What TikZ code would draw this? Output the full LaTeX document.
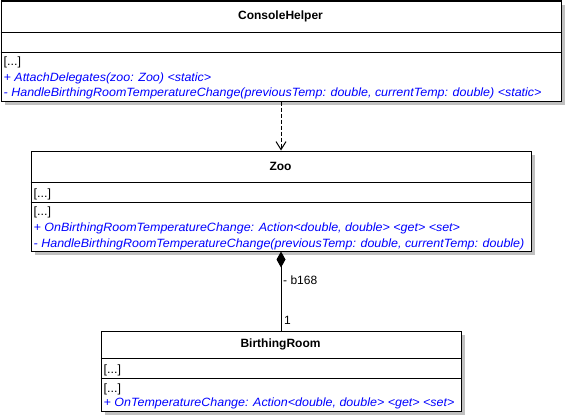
\documentclass[tikz,border=0pt]{standalone}
\usepackage{fontspec}
\setmainfont{Liberation Sans}
\newfontfamily\memberfont{Liberation Sans}[FakeStretch=1.04]
\usetikzlibrary{arrows.meta,shadows}
\definecolor{membercol}{RGB}{0,0,255}
\definecolor{shadowcol}{RGB}{192,192,192}
\tikzset{
  x=1pt, y=1pt,
  classbox/.style={draw=black, line width=1pt, fill=white, inner sep=0pt, anchor=north west,
    general shadow={fill=shadowcol, shadow xshift=4pt, shadow yshift=-4pt}},
  sepline/.style={draw=black, line width=1pt},
  classtitle/.style={font=\fontsize{12}{14}\selectfont\bfseries, inner sep=0pt, anchor=center},
  member/.style={font=\memberfont\fontsize{12}{14}\selectfont\itshape, text=membercol, inner sep=0pt, anchor=base west},
  collapsed/.style={font=\memberfont\fontsize{12}{14}\selectfont, text=black, inner sep=0pt, anchor=base west},
  assoclabel/.style={font=\fontsize{12}{14}\selectfont, text=black, inner sep=0pt, anchor=west},
  connector/.style={draw=black, line width=1pt},
}
\begin{document}
\begin{tikzpicture}
\useasboundingbox (0,0) rectangle (565,-415);

% ConsoleHelper
\node[classbox, minimum width=560pt, minimum height=100pt] (ch) at (0.5,-0.5) {};
\draw[sepline] (0.5,-32.5) coordinate (chs1a) -- (560.5,-32.5) coordinate (chs1b);
\draw[sepline] (0.5,-52.5) coordinate (chs2a) -- (560.5,-52.5) coordinate (chs2b);
\node[classtitle] (chtitle) at (280.5,-16.5) {ConsoleHelper};
\node[collapsed] (chm0) at (3.5,-65.5) {[...]};
\node[member] (chm1) at (3.5,-81) {+ AttachDelegates(zoo: Zoo) <static>};
\node[member] (chm2) at (3.5,-96.5) {- HandleBirthingRoomTemperatureChange(previousTemp: double, currentTemp: double) <static>};

% Zoo
\node[classbox, minimum width=500pt, minimum height=100pt] (zoo) at (30.5,-150.5) {};
\draw[sepline] (30.5,-182.5) coordinate (zs1a) -- (530.5,-182.5) coordinate (zs1b);
\draw[sepline] (30.5,-202.5) coordinate (zs2a) -- (530.5,-202.5) coordinate (zs2b);
\node[classtitle] (zootitle) at (280.5,-166.5) {Zoo};
\node[collapsed] (za0) at (33.5,-197) {[...]};
\node[collapsed] (zm0) at (33.5,-215) {[...]};
\node[member] (zm1) at (33.5,-231.5) {+ OnBirthingRoomTemperatureChange: Action<double, double> <get> <set>};
\node[member] (zm2) at (33.5,-247.5) {- HandleBirthingRoomTemperatureChange(previousTemp: double, currentTemp: double)};

% BirthingRoom
\node[classbox, minimum width=360pt, minimum height=80pt] (br) at (100.5,-330.5) {};
\draw[sepline] (100.5,-358.5) coordinate (bs1a) -- (460.5,-358.5) coordinate (bs1b);
\draw[sepline] (100.5,-378.5) coordinate (bs2a) -- (460.5,-378.5) coordinate (bs2b);
\node[classtitle] (brtitle) at (280.5,-344.5) {BirthingRoom};
\node[collapsed] (ba0) at (103.5,-373.5) {[...]};
\node[collapsed] (bm0) at (103.5,-392) {[...]};
\node[member] (bm1) at (103.5,-406.5) {+ OnTemperatureChange: Action<double, double> <get> <set>};

% dependency ConsoleHelper -> Zoo
\draw[connector, dash pattern=on 4pt off 2pt, -{Straight Barb[length=8pt,width=10pt,line width=1pt]}]
  (ch.south) -- (zoo.north);

% composition Zoo <>- BirthingRoom
\draw[connector, {Diamond[length=16pt,width=9pt]}-] (zoo.south) -- (br.north);
\node[assoclabel] (lb168) at (283,-280) {- b168};
\node[assoclabel] (lmult) at (284,-320) {1};
\end{tikzpicture}
\end{document}
